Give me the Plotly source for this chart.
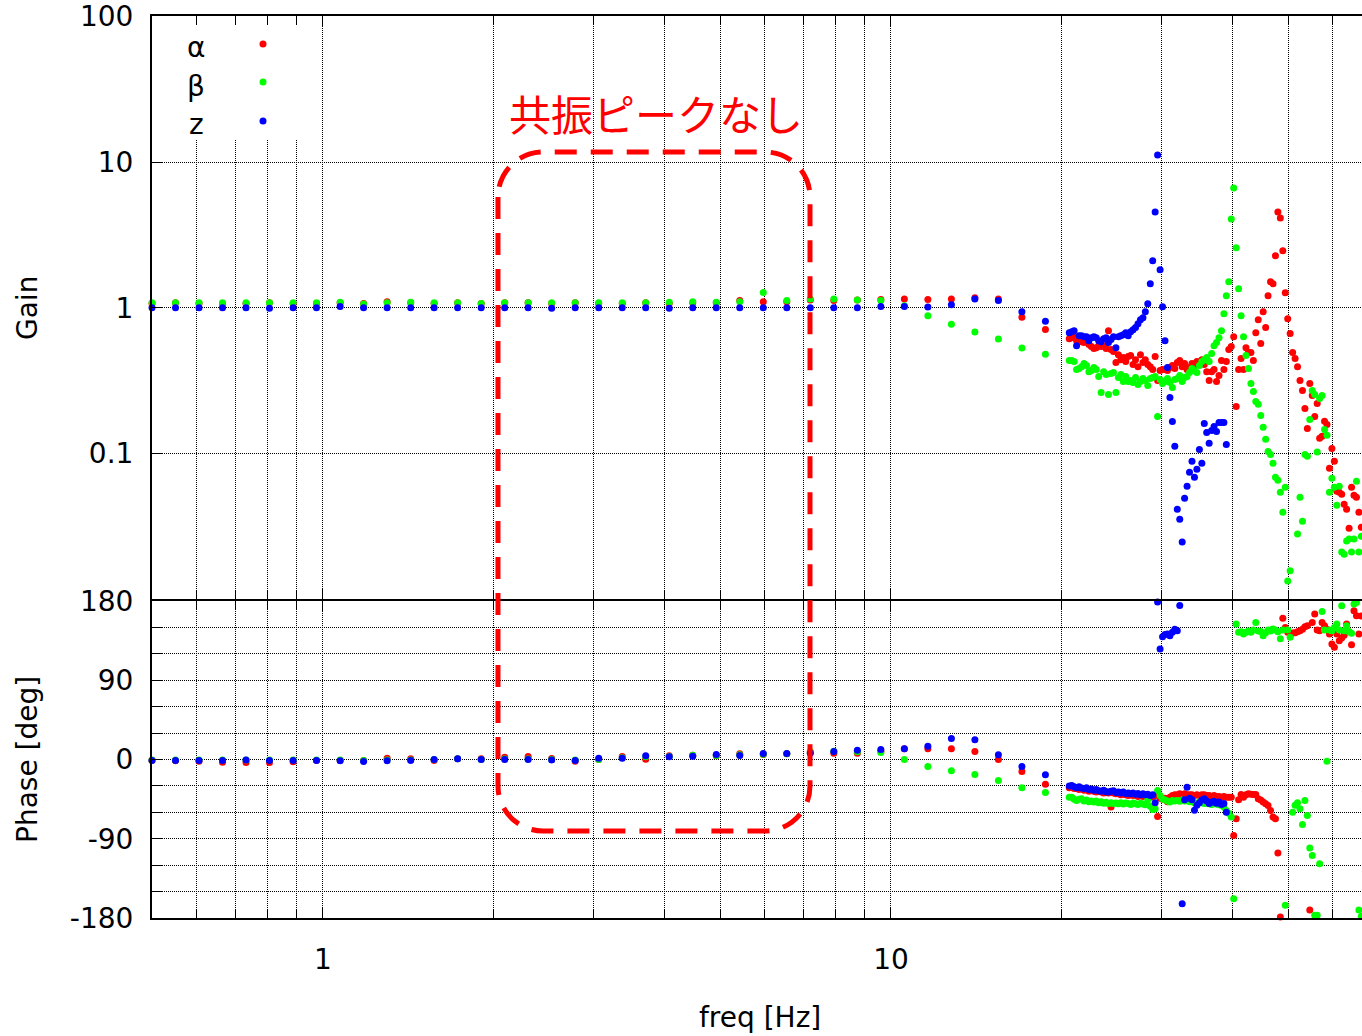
import math
import plotly.graph_objects as go

# ---------------------------------------------------------------- data
# stepped sine sweep, coarse part (Hz)
FREQ_LOW = [0.5, 0.55, 0.605, 0.6655, 0.732, 0.805, 0.886, 0.974, 1.072, 1.179,
            1.297, 1.427, 1.569, 1.726, 1.899, 2.089, 2.297, 2.527, 2.780, 3.058,
            3.364, 3.700, 4.070, 4.477, 4.925, 5.417, 5.959, 6.555, 7.210, 7.932,
            8.725, 9.597, 10.557, 11.613, 12.774, 14.051, 15.456, 17.002, 18.702]

# fine part of the sweep (Hz)
FREQ_FINE = [20.60, 20.81, 21.01, 21.22, 21.44, 21.65, 21.87, 22.09, 22.31, 22.53,
             22.76, 22.98, 23.21, 23.44, 23.68, 23.92, 24.15, 24.40, 24.64, 24.89,
             25.14, 25.39, 25.64, 25.90, 26.16, 26.42, 26.68, 26.95, 27.22, 27.49,
             27.77, 28.04, 28.32, 28.61, 28.89, 29.18, 29.47, 29.77, 30.07, 30.37,
             30.67, 30.98, 31.29, 31.60, 31.92, 32.24, 32.56, 32.88, 33.21, 33.54,
             33.88, 34.22, 34.56, 34.91, 35.26, 35.61, 35.96, 36.32, 36.69, 37.05,
             37.42, 37.80, 38.18, 38.56, 38.94, 39.33, 39.73, 40.12, 40.53, 40.93,
             41.34, 41.75, 42.17, 42.59, 43.02, 43.45, 43.88, 44.32, 44.77, 45.21,
             45.67, 46.12, 46.58, 47.05, 47.52, 47.99, 48.47, 48.96, 49.45, 49.94,
             50.44, 50.95, 51.46, 51.97, 52.49, 53.02, 53.55, 54.08, 54.62, 55.17,
             55.72, 56.28, 56.84, 57.41, 57.98, 58.56, 59.15, 59.74, 60.34, 60.94,
             61.55, 62.16, 62.78, 63.41, 64.05, 64.69, 65.33, 65.99, 66.65, 67.31]

# alpha axis
ALPHA_GAIN_LOW = [1.07, 1.08, 1.07, 1.07, 1.07, 1.08, 1.07, 1.07, 1.08, 1.07,
                  1.10, 1.08, 1.07, 1.08, 1.07, 1.08, 1.08, 1.07, 1.08, 1.07,
                  1.07, 1.08, 1.07, 1.08, 1.08, 1.12, 1.10, 1.10, 1.13, 1.12,
                  1.13, 1.14, 1.15, 1.14, 1.15, 1.17, 1.15, 0.86, 0.71]
ALPHA_PHASE_LOW = [-1, -1.5, -1.9, -3, -3.4, -3.4, -2.6, -1.1, -1.1, -1.1,
                   1.5, 0.8, -1.1, 0.8, 0.8, 2.6, 3.4, 1, -2, 0,
                   3.4, 0.3, 4.2, 4.9, 4.2, 6.4, 5.7, 6.4, 8.7, 7.2,
                   7.2, 9.5, 12.1, 12.1, 12.1, 9.1, 0, -13.6, -28]
ALPHA_GAIN_FINE = [0.613, 0.623, 0.633, 0.594, 0.604, 0.585, 0.576, 0.594, 0.558, 0.541,
                   0.524, 0.532, 0.549, 0.541, 0.549, 0.524, 0.696, 0.516, 0.500, 0.420,
                   0.476, 0.440, 0.455, 0.427, 0.462, 0.469, 0.407, 0.440, 0.394, 0.476,
                   0.420, 0.440, 0.407, 0.394, 0.376, 0.462, 0.316, 0.370, 0.376, 0.376,
                   0.370, 0.388, 0.401, 0.382, 0.420, 0.434, 0.394, 0.414, 0.376, 0.388,
                   0.414, 0.401, 0.427, 0.414, 0.440, 0.407, 0.364, 0.316, 0.364, 0.376,
                   0.311, 0.342, 0.434, 0.376, 0.427, 0.516, 0.541, 0.633, 0.210, 0.376,
                   0.448, 0.376, 0.532, 0.492, 0.492, 0.434, 0.674, 0.828, 0.567, 0.939,
                   0.730, 1.208, 1.507, 1.460, 2.27, 4.545, 4.135, 2.457, 1.267, 0.841,
                   0.664, 0.492, 0.448, 0.394, 0.316, 0.270, 0.203, 0.148, 0.302, 0.250,
                   0.179, 0.220, 0.127, 0.131, 0.166, 0.158, 0.0789, 0.108, 0.0882, 0.0549,
                   0.0541, 0.0524, 0.0447, 0.0414, 0.0306, 0.0585, 0.0516, 0.0500, 0.0394, 0.0311]
ALPHA_PHASE_FINE = [-32, -31, -33, -33, -34, -33, -35, -34, -36, -35,
                    -36, -37, -36, -37, -38, -37, -38, -54, -38, -39,
                    -39, -40, -39, -40, -41, -40, -41, -40, -42, -41,
                    -42, -41, -42, -43, -42, -41, -64.6, -44, -45, -44,
                    -48, -43, -41, -40, -40, -39, -40, -39, -40, -40,
                    -40, -41, -40, -41, -40, -40, -41, -41, -42, -41,
                    -42, -42, -43, -42, -43, -43, -43, -86.2, -67.3, -45.7,
                    -39.7, -42.8, -40, -39, -39.5, -39.7, -39.7, -44.6, -46, -48.4,
                    -50.2, -52.2, -57.8, -65.4, -67.3, -106.3, -178.9, 160.3, 150, 144.4,
                    143, 143.7, 144, 145, 146.3, 148, 150.8, 152, -171, 155.7,
                    165.2, 147.1, 146.3, 155.7, 152, 148, 142.6, 131.2, 127.4, 142.6,
                    135, 138, 141, 154, 145, 130.2, 169, 163.3, 142.6, 163]

# beta axis
BETA_GAIN_LOW = [1.08, 1.08, 1.08, 1.08, 1.08, 1.08, 1.08, 1.08, 1.09, 1.06,
                 1.08, 1.09, 1.08, 1.08, 1.07, 1.08, 1.08, 1.08, 1.08, 1.08,
                 1.08, 1.08, 1.09, 1.10, 1.09, 1.10, 1.27, 1.12, 1.15, 1.15,
                 1.13, 1.12, 1.03, 0.88, 0.77, 0.68, 0.61, 0.53, 0.48]
BETA_PHASE_LOW = [-0.5, -0.5, -0.5, -0.5, -0.5, -0.5, -0.5, -0.5, -0.5, -1,
                  -0.5, -0.5, 0, 0.8, 0, 0.5, 0.5, 0, -0.5, 0,
                  2, 3, 3.5, 4.9, 4.5, 5.5, 6, 6.5, 8.3, 9.5,
                  8.7, 7.9, 0, -7.9, -12.9, -17.0, -23.8, -32, -37.4]
BETA_GAIN_FINE = [0.434, 0.434, 0.427, 0.376, 0.382, 0.394, 0.414, 0.401, 0.364, 0.370,
                  0.388, 0.376, 0.337, 0.262, 0.364, 0.348, 0.254, 0.353, 0.359, 0.262,
                  0.332, 0.348, 0.311, 0.337, 0.311, 0.316, 0.306, 0.332, 0.297, 0.311,
                  0.326, 0.316, 0.292, 0.326, 0.332, 0.337, 0.179, 0.321, 0.302, 0.311,
                  0.326, 0.306, 0.283, 0.321, 0.326, 0.342, 0.311, 0.332, 0.337, 0.359,
                  0.382, 0.370, 0.359, 0.401, 0.427, 0.440, 0.455, 0.427, 0.484, 0.549,
                  0.576, 0.623, 0.696, 0.910, 1.208, 1.507, 4.07, 6.64, 2.576, 1.349,
                  0.882, 0.633, 0.469, 0.382, 0.302, 0.266, 0.227, 0.217, 0.182, 0.151,
                  0.125, 0.103, 0.0984, 0.0854, 0.0685, 0.0653, 0.0541, 0.0394, 0.0585, 0.0133,
                  0.0156, None, None, 0.0279, 0.0500, 0.0342, 0.0984, 0.0954, 0.171, 0.270,
                  0.254, 0.102, 0.238, 0.250, 0.146, 0.133, 0.0541, 0.0674, 0.0585, 0.0440,
                  0.0594, 0.0210, 0.0203, 0.0250, 0.0258, 0.0210, 0.0258, 0.0643, 0.0210, 0.0270]
BETA_PHASE_FINE = [-42.8, -43, -45, -46.5, -45, -44.6, -47, -46, -48, -47,
                   -48.4, -47, -49, -48, -49.6, -48.5, -50, -49, -50, -49.5,
                   -50.2, -49, -50.5, -49.5, -50, -51, -49.5, -50.2, -51, -49.8,
                   -50.5, -51.4, -45.7, -53, -56.7, -56, -35.2, -40.8, -44.6, -46,
                   -47, -48.4, -46.5, -47, -46.5, -47.5, -46, -47, -46.5, -48,
                   -47, -49, -50.2, -48, -49, -50, -49.5, -50.2, -51, -50.2,
                   -50.5, -51.5, -52, -54, -57.8, -61, -65.4, -158, 154, 144.4,
                   145, 142.6, 144.4, 146, 144.4, 147, 155.7, 146, 145.5, 140.6,
                   144, 147, 146, 148.2, 147, 145, 137, 147, -165.6, 147,
                   138.7, -59.8, -52, -49, -56, -73.7, -46.5, -63.5, -100.6, -109,
                   -177, -177, -118.3, 168.2, 147, -1.9, 147, 146.3, 150, 154,
                   147, 174.7, 146.3, 152, 145, 143.3, 176.6, 178.3, -171, -178]

# z axis (record ends at ~39 Hz)
Z_GAIN_LOW = [1.0, 1.0, 1.0, 1.0, 1.0, 0.99, 1.0, 1.0, 1.02, 1.0,
              1.0, 1.0, 1.0, 1.0, 1.0, 1.0, 1.0, 0.99, 1.0, 1.0,
              1.0, 1.0, 0.99, 1.0, 1.0, 1.0, 1.0, 1.0, 1.0, 1.0,
              1.0, 1.02, 1.02, 1.01, 1.05, 1.15, 1.12, 0.94, 0.806]
Z_PHASE_LOW = [-1.1, -1.1, -1.1, -1.1, -0.5, -1.1, -1.1, -1.1, -1.5, -2.3,
               -1.5, -1.1, 0, 0.8, 0, 0, 0, -0.5, -1, 1.5,
               1.5, 4.2, 3.0, 3.8, 5.7, 4.5, 6.8, 6.8, 7.2, 9.1,
               10.6, 11.3, 12.1, 15.1, 23.8, 22.3, 5.3, -7.9, -17.4]
Z_GAIN_FINE = [0.674, 0.685, 0.696, 0.549, 0.643, 0.643, 0.633, 0.633, 0.594, 0.623,
               0.633, 0.623, 0.594, 0.585, 0.613, 0.623, 0.576, 0.604, 0.633, 0.532,
               0.633, 0.643, 0.653, 0.674, 0.643, 0.685, 0.707, 0.730, 0.777, 0.828,
               0.854, 0.939, 1.065, 1.46, 2.10, 4.54, 11.17, 1.82, 1.016, 0.594,
               0.388, 0.242, 0.1656, 0.1117, 0.0413, 0.0353, 0.0246, 0.0492, 0.0594, 0.0741,
               0.0882, 0.0685, 0.0777, 0.1065, 0.0854, 0.1605, 0.1393, 0.1171, 0.1438, 0.1531,
               0.1415, 0.1631, 0.1631, 0.1631, 0.1152]
Z_PHASE_FINE = [-30, -29.5, -31, -32, -31, -32.5, -33, -32, -34, -33.5,
                -35, -34, -35.5, -36, -35, -36.5, -37, -36, -35.5, -37.5,
                -37, -38, -37, -38.5, -38, -39, -38, -39.5, -38.5, -40,
                -39, -40, -39.5, -41, -40, -49, 179, 125.5, 139.5, 142,
                142.5, 140.6, 144.4, 148, 146.3, 175, -163.7, -45.7, -31.4, -44,
                -45.7, -57.5, -52, -49, -46, -44.6, -47, -50, -48.5, -47.5,
                -49.6, -48.4, -51, -50, -59.8]

SERIES = [
    ("α", "#ff0000", ALPHA_GAIN_LOW, ALPHA_GAIN_FINE, ALPHA_PHASE_LOW, ALPHA_PHASE_FINE),
    ("β", "#00ff00", BETA_GAIN_LOW, BETA_GAIN_FINE, BETA_PHASE_LOW, BETA_PHASE_FINE),
    ("z", "#0000ff", Z_GAIN_LOW, Z_GAIN_FINE, Z_PHASE_LOW, Z_PHASE_FINE),
]

GAIN_TICKS = [0.1, 1, 10, 100]
GAIN_LABELS = ["0.1", "1", "10", "100"]
PHASE_TICKS = [-180, -150, -120, -90, -60, -30, 0, 30, 60, 90, 120, 150, 180]
PHASE_LABELS = ["-180", "", "", "-90", "", "", "0", "", "", "90", "", "", "180"]
FREQ_TICKS = [1, 10]
FREQ_LABELS = ["1", "10"]
FREQ_MINOR = [0.6, 0.7, 0.8, 0.9, 2, 3, 4, 5, 6, 7, 8, 9, 20, 30, 40, 50, 60]

NOTE = "共振ピークなし"

# ---------------------------------------------------------------- layout
W, H = 1362, 1036
ML, MR, MT, MB = 152, 0, 16, 118
PW, PH = W - ML - MR, H - MT - MB
BOTTOM = H - MB
SPLIT = (BOTTOM - 600) / PH          # boundary between gain and phase panels
ONE_PX = 1.0 / PH
FONT = "DejaVu Sans, Verdana, sans-serif"
TICKFONT = dict(family=FONT, size=28, color="#000000")
GRID = dict(showgrid=True, gridcolor="#000000", gridwidth=1, griddash="1px,1px")


def px(xp):
    return (xp - ML) / PW


def py(yp):
    return (BOTTOM - yp) / PH


fig = go.Figure()

for name, color, g_lo, g_hi, p_lo, p_hi in SERIES:
    mk = dict(color=color, size=7, line=dict(width=0))
    fig.add_trace(go.Scatter(x=FREQ_LOW + FREQ_FINE[:len(g_hi)], y=g_lo + g_hi,
                             mode="markers", marker=mk, name=name, showlegend=False,
                             cliponaxis=False, xaxis="x", yaxis="y"))
    fig.add_trace(go.Scatter(x=FREQ_LOW + FREQ_FINE[:len(p_hi)], y=p_lo + p_hi,
                             mode="markers", marker=mk, name=name, showlegend=False,
                             cliponaxis=False, xaxis="x2", yaxis="y2"))

xrange_ = [math.log10(0.5), math.log10(0.5) + PW / 568.0]

xcommon = dict(type="log", range=xrange_, showline=True, linecolor="#000000",
               linewidth=2, mirror="ticks", ticks="inside", ticklen=10,
               tickcolor="#000000", tickwidth=1, tickvals=FREQ_TICKS,
               ticktext=FREQ_LABELS, tickfont=TICKFONT, automargin=False,
               minor=dict(tickvals=FREQ_MINOR, ticks="inside", ticklen=8,
                          tickcolor="#000000", tickwidth=1, showgrid=True,
                          gridcolor="#000000", gridwidth=1, griddash="1px,1px"),
               zeroline=False, **GRID)

ycommon = dict(showline=True, linecolor="#000000", linewidth=2, mirror=False,
               ticks="inside", ticklen=10, tickcolor="#000000", tickwidth=1,
               ticklabelstandoff=11, tickfont=TICKFONT, zeroline=False,
               automargin=False, ticklabeloverflow="allow", **GRID)

fig.update_layout(
    template="none",
    width=W, height=H,
    margin=dict(l=ML, r=MR, t=MT, b=MB, pad=0),
    paper_bgcolor="#ffffff", plot_bgcolor="#ffffff",
    showlegend=False,
    font=dict(family=FONT, size=28, color="#000000"),
    xaxis=dict(anchor="y", showticklabels=False, **xcommon),
    xaxis2=dict(anchor="y2", matches="x", showticklabels=True,
                ticklabelstandoff=15, **xcommon),
    # the two panels share one border line at the split
    yaxis=dict(type="log", domain=[SPLIT + ONE_PX, 1], range=[-2, 2.003], anchor="x",
               tickvals=GAIN_TICKS, ticktext=GAIN_LABELS, **ycommon),
    yaxis2=dict(domain=[0, SPLIT - ONE_PX], range=[-180, 180], anchor="x2",
                tickvals=PHASE_TICKS, ticktext=PHASE_LABELS, **ycommon),
)

# legend panel (text on the left, sample dot on the right)
shapes = [dict(type="rect", xref="paper", yref="paper",
               x0=px(153), x1=px(306), y0=py(140), y1=py(26),
               fillcolor="#ffffff", line=dict(width=0), layer="above")]
annotations = []
legend_rows = [(47, 44), (86, 82), (124, 121)]
for (name, color, *_), (ty, dy) in zip(SERIES, legend_rows):
    annotations.append(dict(text=name, xref="paper", yref="paper",
                            x=px(196), y=py(ty), xanchor="center", yanchor="middle",
                            showarrow=False, font=TICKFONT))
    r = 3.5
    shapes.append(dict(type="circle", xref="paper", yref="paper",
                       x0=px(263 - r), x1=px(263 + r), y0=py(dy + r), y1=py(dy - r),
                       fillcolor=color, line=dict(width=0), layer="above"))

# dashed rounded frame around the flat band
x0, x1, y0, y1, rad = 498, 810, 152, 831, 45
kk = 0.5523 * rad


def P(a, b):
    return f"{px(a):.5f},{py(b):.5f}"


path = (f"M{P(x0, y0 + rad)} L{P(x0, y1 - rad)} "
        f"C{P(x0, y1 - rad + kk)} {P(x0 + rad - kk, y1)} {P(x0 + rad, y1)} "
        f"L{P(x1 - rad, y1)} "
        f"C{P(x1 - rad + kk, y1)} {P(x1, y1 - rad + kk)} {P(x1, y1 - rad)} "
        f"L{P(x1, y0 + rad)} "
        f"C{P(x1, y0 + rad - kk)} {P(x1 - rad + kk, y0)} {P(x1 - rad, y0)} "
        f"L{P(x0 + rad, y0)} "
        f"C{P(x0 + rad - kk, y0)} {P(x0, y0 + rad - kk)} {P(x0, y0 + rad)} Z")
shapes.append(dict(type="path", xref="paper", yref="paper", path=path,
                   line=dict(color="#ff0000", width=5, dash="22px,14px"),
                   layer="above"))

annotations.append(dict(text=NOTE, xref="paper", yref="paper", x=px(656), y=py(112),
                        xanchor="center", yanchor="middle", showarrow=False,
                        font=dict(family="Noto Sans CJK JP, sans-serif", size=42,
                                  color="#ff0000")))

# axis titles
annotations += [
    dict(text="Gain", xref="paper", yref="paper", x=px(27), y=py(308),
         textangle=-90, xanchor="center", yanchor="middle", showarrow=False,
         font=TICKFONT),
    dict(text="Phase [deg]", xref="paper", yref="paper", x=px(27), y=py(760),
         textangle=-90, xanchor="center", yanchor="middle", showarrow=False,
         font=TICKFONT),
    dict(text="freq [Hz]", xref="paper", yref="paper", x=px(760), y=py(1017),
         xanchor="center", yanchor="middle", showarrow=False, font=TICKFONT),
]

fig.update_layout(shapes=shapes, annotations=annotations)
fig.write_html("out.html")
